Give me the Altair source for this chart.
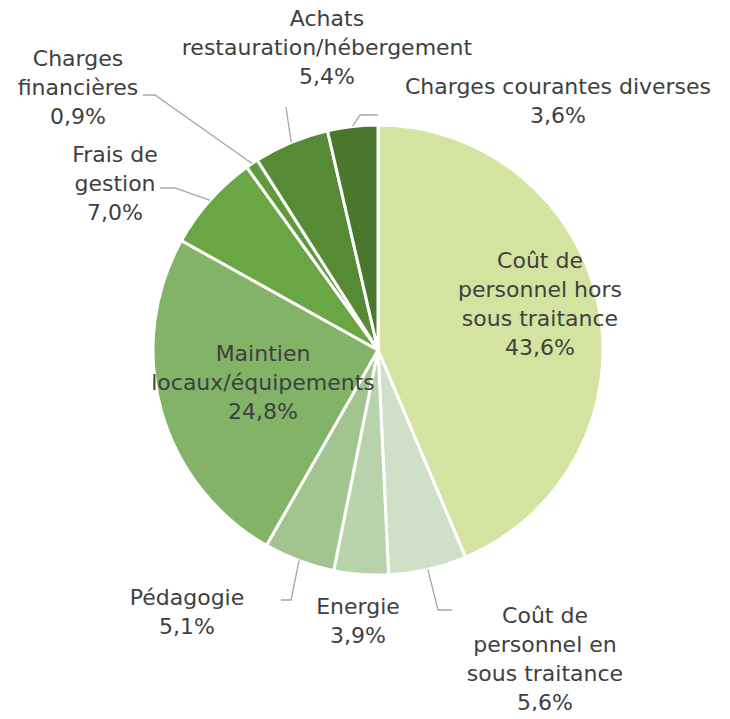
import altair as alt
import pandas as pd
import numpy as np

# ---- data ----
categories = [
    "Coût de personnel hors sous traitance",
    "Coût de personnel en sous traitance",
    "Energie",
    "Pédagogie",
    "Maintien locaux/équipements",
    "Frais de gestion",
    "Charges financières",
    "Achats restauration/hébergement",
    "Charges courantes diverses",
]
label_text = [
    "Coût de\npersonnel hors\nsous traitance",
    "Coût de\npersonnel en\nsous traitance",
    "Energie",
    "Pédagogie",
    "Maintien\nlocaux/équipements",
    "Frais de\ngestion",
    "Charges\nfinancières",
    "Achats\nrestauration/hébergement",
    "Charges courantes diverses",
]
values = [43.6, 5.6, 3.9, 5.1, 24.8, 7.0, 0.9, 5.4, 3.6]

# ---- style / layout ----
colors = ["#D4E4A0", "#D0E0C8", "#B8D2AC", "#A2C48F", "#82B366",
          "#6BA644", "#5F9A3A", "#568A35", "#4A772C"]
W, H = 714, 703
M = 8
CX, CY, R = 378, 350, 225  # page coords of pie centre, radius
LH = 29
# label block centres (page coords)
label_pos = [(540, 304), (545, 659), (358, 621), (187, 612), (263, 383),
             (115, 184), (78, 88), (327, 48), (558, 101)]
# leader line elbow + end points (page coords), None = no leader
leader_pts = [None,
              [(438, 610), (452, 610)],
              None,
              [(291, 600), (281, 600)],
              None,
              [(175, 188), (160, 188)],
              [(155, 95), (143, 95)],
              [(286, 107)],
              [(360, 115), (378, 115)]]

total = sum(values)
cum = np.cumsum([0] + values)
mid_angles = [(cum[i] + values[i] / 2) / total * 2 * np.pi for i in range(len(values))]

full_labels = [t + "\n" + f"{v:.1f}%".replace(".", ",") for t, v in zip(label_text, values)]
df = pd.DataFrame({
    "idx": list(range(len(values))),
    "cat": categories,
    "value": values,
    "label": full_labels,
    "lx": [p[0] for p in label_pos],
    "ly": [p[1] - (s.count("\n")) * LH / 2 for p, s in zip(label_pos, full_labels)],
})

rows = []
for i, pts in enumerate(leader_pts):
    if pts is None:
        continue
    a = mid_angles[i]
    start = (CX + R * np.sin(a), CY - R * np.cos(a))
    for k, (px, py) in enumerate([start] + pts):
        rows.append({"seg": categories[i], "ord": k, "x": px, "y": py})
lines_df = pd.DataFrame(rows)

xs = alt.Scale(domain=[M, M + W], range=[0, W], nice=False, zero=False)
ys = alt.Scale(domain=[M, M + H], range=[0, H], nice=False, zero=False)

arcs = alt.Chart(df).mark_arc(outerRadius=R, stroke="white", strokeWidth=3).encode(
    theta=alt.Theta("value:Q", stack=True),
    order=alt.Order("idx:Q"),
    color=alt.Color("cat:N", scale=alt.Scale(domain=categories, range=colors), legend=None),
    x=alt.value(CX - M),
    y=alt.value(CY - M),
)

leaders = alt.Chart(lines_df).mark_line(color="#A6A6A6", strokeWidth=1.3).encode(
    x=alt.X("x:Q", scale=xs, axis=None),
    y=alt.Y("y:Q", scale=ys, axis=None),
    detail="seg:N",
    order="ord:Q",
)

labels = alt.Chart(df).mark_text(
    lineBreak="\n", align="center", baseline="middle",
    fontSize=22, font="DejaVu Sans", color="#404040", lineHeight=LH,
).encode(
    x=alt.X("lx:Q", scale=xs, axis=None),
    y=alt.Y("ly:Q", scale=ys, axis=None),
    text="label:N",
)

chart = alt.layer(arcs, leaders, labels).properties(
    width=W, height=H, padding=0, autosize=alt.AutoSizeParams(type="none"),
    background="white",
).configure_view(stroke=None)

chart.save("out.html", embed_options={"renderer": "svg", "actions": False})
